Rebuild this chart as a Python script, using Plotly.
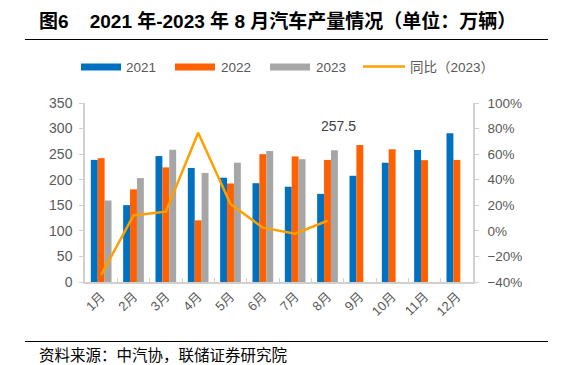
import plotly.graph_objects as go

months = ["1月", "2月", "3月", "4月", "5月", "6月", "7月", "8月", "9月", "10月", "11月", "12月"]
prod_2021 = [238.8, 150.3, 246.2, 223.0, 204.0, 193.2, 186.3, 172.3, 207.7, 233.2, 258.3, 290.7]
prod_2022 = [242.1, 181.2, 224.1, 120.5, 192.6, 249.9, 245.5, 238.7, 267.7, 259.4, 238.2, 238.7]
prod_2023 = [159.4, 203.2, 258.4, 213.3, 233.3, 256.1, 240.1, 257.5, None, None, None, None]
yoy_2023 = [-34.5, 12.0, 15.0, 76.8, 21.0, 2.5, -2.2, 7.9, None, None, None, None]

# the page body adds an 8px margin; work in window pixels and offset
OFF = 8
W, H = 578 - OFF, 365 - OFF
L, R, T, B = 85 - OFF, 473 - OFF, 103 - OFF, 282 - OFF  # plot area in figure pixels

def px(x):
    return (x - OFF - L) / (R - L)

def py(y):
    return (B - (y - OFF)) / (B - T)

NUM_FONT = "Liberation Sans, Arial, Noto Sans CJK SC"
CJK_FONT = "Noto Sans CJK SC, Liberation Sans"
C_BLUE = "#0070C0"
C_ORANGE = "#FF6000"
C_GRAY = "#A6A6A6"
C_LINE = "#FFA000"
TXT = "#595959"

fig = go.Figure()
fig.add_bar(x=months, y=prod_2021, name="2021", marker_color=C_BLUE, marker_line_width=0)
fig.add_bar(x=months, y=prod_2022, name="2022", marker_color=C_ORANGE, marker_line_width=0)
fig.add_bar(x=months, y=prod_2023, name="2023", marker_color=C_GRAY, marker_line_width=0)
fig.add_scatter(x=months, y=yoy_2023, name="同比（2023）", mode="lines",
                line=dict(color=C_LINE, width=2.5), yaxis="y2")

shapes = []
annotations = []

# title + rule
annotations.append(dict(text="<b>图6&nbsp;&nbsp;&nbsp; 2021 年-2023 年 8 月汽车产量情况（单位：万辆）</b>",
                        xref="paper", yref="paper", x=px(37), y=py(21), xanchor="left", yanchor="middle",
                        showarrow=False, font=dict(family=NUM_FONT, size=19, color="#000000")))
shapes.append(dict(type="line", xref="paper", yref="paper", x0=px(25), x1=px(548), y0=py(39.5), y1=py(39.5),
                   line=dict(color="#000000", width=1.2)))

# legend (manual)
leg_items = [("2021", C_BLUE, 81, 124, "bar"), ("2022", C_ORANGE, 175, 219, "bar"),
             ("2023", C_GRAY, 270, 314, "bar"), ("同比（2023）", C_LINE, 363, 408, "line")]
for label, col, x0, tx, kind in leg_items:
    if kind == "bar":
        shapes.append(dict(type="rect", xref="paper", yref="paper", x0=px(x0), x1=px(x0 + 40),
                           y0=py(70.5), y1=py(63.5), fillcolor=col, line=dict(width=0)))
    else:
        shapes.append(dict(type="line", xref="paper", yref="paper", x0=px(x0), x1=px(x0 + 42),
                           y0=py(66.5), y1=py(66.5), line=dict(color=col, width=2.5)))
    annotations.append(dict(text=label, xref="paper", yref="paper", x=px(tx), y=py(67),
                            xanchor="left", yanchor="middle", showarrow=False,
                            font=dict(family=NUM_FONT, size=13.5, color=TXT)))

# data label
annotations.append(dict(text="257.5", x=months[7], y=prod_2023[7], xref="x", yref="y",
                        xshift=10.5, yshift=24, showarrow=False, xanchor="center", yanchor="middle",
                        font=dict(family=NUM_FONT, size=14, color="#404040")))

# source + rule
shapes.append(dict(type="line", xref="paper", yref="paper", x0=px(25), x1=px(548), y0=py(341.5), y1=py(341.5),
                   line=dict(color="#000000", width=1.2)))
annotations.append(dict(text="资料来源：中汽协，联储证券研究院", xref="paper", yref="paper",
                        x=px(37), y=py(354), xanchor="left", yanchor="middle", showarrow=False,
                        font=dict(family=CJK_FONT, size=15.5, color="#000000")))

fig.update_layout(
    width=W, height=H,
    margin=dict(l=L, r=W - R, t=T, b=H - B, pad=0),
    paper_bgcolor="white", plot_bgcolor="white",
    barmode="group", bargap=0.36, bargroupgap=0,
    showlegend=False,
    shapes=shapes, annotations=annotations,
    xaxis=dict(type="category", showline=True, linecolor="#D0D0D0", linewidth=1.5,
               ticks="inside", ticklen=4, tickcolor="#D0D0D0", tickson="boundaries",
               tickangle=-45, tickfont=dict(family=NUM_FONT, size=13, color=TXT),
               showgrid=False, zeroline=False),
    yaxis=dict(range=[0, 350], dtick=50, showline=True, linecolor="#D0D0D0", linewidth=1.5,
               ticks="outside", ticklen=4, tickcolor="#D0D0D0", showgrid=False, zeroline=False,
               tickfont=dict(family=NUM_FONT, size=14, color=TXT), ticklabelstandoff=4),
    yaxis2=dict(range=[-40, 100], dtick=20, ticksuffix="%", overlaying="y", side="right",
                showline=True, linecolor="#D0D0D0", linewidth=1.5, ticks="outside", ticklen=4,
                tickcolor="#D0D0D0", showgrid=False, zeroline=False,
                tickfont=dict(family=NUM_FONT, size=13.5, color=TXT), ticklabelstandoff=6),
)

fig.write_html("out.html")
